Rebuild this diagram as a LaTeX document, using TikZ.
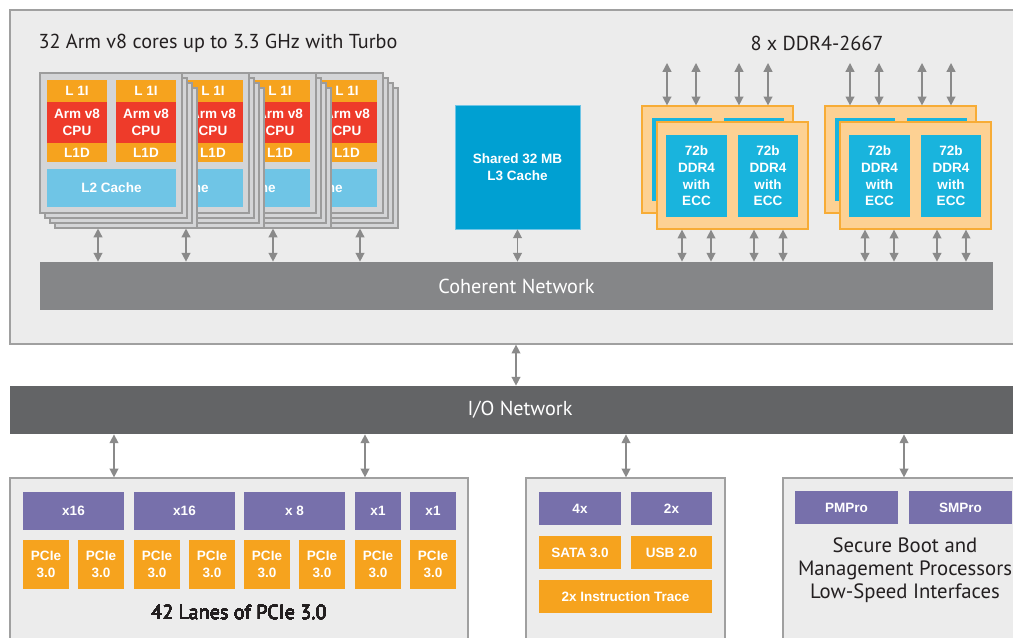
\documentclass[tikz,border=0pt]{standalone}
\usepackage{fontspec}
\setmainfont{Liberation Sans}
\newfontfamily\titlefont{PT Sans}
\usetikzlibrary{arrows.meta,calc}

\definecolor{framebg}{HTML}{ECECEC}
\definecolor{frameln}{HTML}{A0A0A0}
\definecolor{cardbg}{HTML}{D4D5D7}
\definecolor{cardln}{HTML}{9C9C9C}
\definecolor{amber}{HTML}{F6A31E}
\definecolor{cpured}{HTML}{EE3B2A}
\definecolor{ltblue}{HTML}{6FC5E6}
\definecolor{l3blue}{HTML}{00A0D2}
\definecolor{dimmblue}{HTML}{19B4DD}
\definecolor{ddrbg}{HTML}{FDD193}
\definecolor{ddrln}{HTML}{F7AC36}
\definecolor{lanes}{HTML}{7770AB}
\definecolor{netgray}{HTML}{858688}
\definecolor{iogray}{HTML}{636466}
\definecolor{arrgray}{HTML}{8A8A8A}
\definecolor{ink}{HTML}{231F20}

% box from corner (x1,y1) to corner (x2,y2), in pixels
\newcommand{\boxat}[7]{\node[#1, minimum width={((#5)-(#3))*0.02cm}, minimum height={((#6)-(#4))*0.02cm}] (#2) at ({((#3)+(#5))/2},{((#4)+(#6))/2}) {#7};}

\tikzset{
  blk/.style={rectangle, inner sep=0pt, align=center, text=white, font=\bfseries\fontsize{7.7}{9.5}\selectfont},
  frame/.style={rectangle, inner sep=0pt, fill=framebg, draw=frameln, line width=0.7pt},
  card/.style={rectangle, inner sep=0pt, fill=cardbg, draw=cardln, line width=0.6pt},
  l1/.style={blk, fill=amber},
  cpu/.style={blk, fill=cpured},
  l2/.style={blk, fill=ltblue},
  l3/.style={blk, fill=l3blue, draw=ltblue, line width=0.4pt},
  ddr/.style={rectangle, inner sep=0pt, fill=ddrbg, draw=ddrln, line width=0.7pt},
  dimm/.style={blk, fill=dimmblue},
  lane/.style={blk, fill=lanes},
  port/.style={blk, fill=amber},
  net/.style={rectangle, inner sep=0pt, fill=#1, text=white, font=\titlefont\fontsize{11.5}{13}\selectfont},
  ttl/.style={inner sep=0pt, text=ink, align=center, font=\titlefont\fontsize{11.5}{13}\selectfont},
  dbl/.style={draw=arrgray, line width=0.8pt, {Triangle[length=5pt,width=5pt]}-{Triangle[length=5pt,width=5pt]}}
}

\begin{document}
\begin{tikzpicture}[x=0.02cm, y=-0.02cm]
  \useasboundingbox (0,0) rectangle (1013,637);

  % compute complex
  \boxat{frame}{chip}{10}{10}{1030}{344}{}
  \node[ttl] (cores) at (218,43) {32 Arm v8 cores up to 3.3 GHz with Turbo};
  \node[ttl] (ddrttl) at (817,43) {8 x DDR4-2667};

  % core clusters, back to front
  \foreach \s in {3,2,1,0}{
    \pgfmathsetmacro\ox{40+67*\s}
    \foreach \k in {3,2,1}{
      \boxat{card}{st\s-\k}{\ox+5*\k}{73+5*\k}{\ox+142+5*\k}{213+5*\k}{}
    }
    \boxat{card}{st\s}{\ox}{73}{\ox+142}{213}{}
    \foreach \c/\cx in {a/7,b/76}{
      \boxat{l1}{i\s\c}{\ox+\cx}{80}{\ox+\cx+60}{102}{L 1I}
      \boxat{cpu}{cpu\s\c}{\ox+\cx}{102}{\ox+\cx+60}{143}{Arm v8\\CPU}
      \boxat{l1}{d\s\c}{\ox+\cx}{143}{\ox+\cx+60}{162}{L1D}
    }
    \boxat{l2}{l2\s}{\ox+7}{169}{\ox+136}{207}{L2 Cache}
  }

  \boxat{l3}{l3}{455}{105}{580}{229}{Shared 32 MB\\L3 Cache}

  % memory controllers
  \coordinate (dimmtop) at (0,63);
  \foreach \g/\gx in {1/642,2/825}{
    \boxat{ddr}{dk\g}{\gx}{106}{\gx+151}{213}{}
    \boxat{dimm}{db\g a}{\gx+10}{118}{\gx+70}{201}{}
    \boxat{dimm}{db\g b}{\gx+82}{118}{\gx+142}{201}{}
    \boxat{ddr}{df\g}{\gx+15}{122}{\gx+166}{229}{}
    \boxat{dimm}{dm\g a}{\gx+24}{135}{\gx+85}{217}{72b\\DDR4\\with\\ECC}
    \boxat{dimm}{dm\g b}{\gx+96}{135}{\gx+156}{217}{72b\\DDR4\\with\\ECC}
  }

  \boxat{net={netgray}}{net}{40}{262}{993}{310}{Coherent Network}

  \foreach \ax in {98,186,273,360}
    \draw[dbl] (\ax,0 |- st0-3.south) -- (\ax,0 |- net.north);
  \draw[dbl] (l3.south) -- (l3.south |- net.north);
  \foreach \g/\gx in {1/642,2/825}{
    \foreach \dx in {25,54,97,126}
      \draw[dbl] (\gx+\dx,0 |- dimmtop) -- (\gx+\dx,0 |- dk\g.north);
    \foreach \dx in {40,69,112,141}
      \draw[dbl] (\gx+\dx,0 |- df\g.south) -- (\gx+\dx,0 |- net.north);
  }

  % I/O
  \boxat{net={iogray}}{io}{10}{386}{1030}{434}{I/O Network}
  \draw[dbl] (516,0 |- chip.south) -- (516,0 |- io.north);

  % PCIe
  \boxat{frame}{pcie}{10}{478}{468}{660}{}
  \foreach \a/\b/\t [count=\i] in {23/124/x16,134/235/x16,244/345/x 8,355/401/x1,410/456/x1}
    \boxat{lane}{ln\i}{\a}{492}{\b}{530}{\t}
  \foreach \px [count=\i] in {23,78,134,189,244,299,355,410}
    \boxat{port}{pc\i}{\px}{540}{\px+46}{589}{PCIe\\3.0}
  \node[ttl] (pcielbl) at (239,612) {42 Lanes of PCIe 3.0};

  % SATA / USB / trace
  \boxat{frame}{misc}{526}{478}{725}{660}{}
  \boxat{lane}{sata4}{539}{492}{621}{525}{4x}
  \boxat{lane}{usb2}{631}{492}{712}{525}{2x}
  \boxat{port}{sata}{539}{536}{621}{569}{SATA 3.0}
  \boxat{port}{usb}{631}{536}{712}{569}{USB 2.0}
  \boxat{port}{trace}{539}{580}{712}{613}{2x Instruction Trace}

  % management
  \boxat{frame}{mgmt}{783}{478}{1030}{660}{}
  \boxat{lane}{pm}{795}{491}{898}{524}{PMPro}
  \boxat{lane}{sm}{909}{491}{1012}{524}{SMPro}
  \node[ttl, font=\titlefont\fontsize{11.8}{13}\selectfont] (mgmtlbl) at (905,570) {Secure Boot and\\Management Processors\\Low-Speed Interfaces};

  \draw[dbl] (114,0 |- io.south) -- (114,0 |- pcie.north);
  \draw[dbl] (365,0 |- io.south) -- (365,0 |- pcie.north);
  \draw[dbl] (626,0 |- io.south) -- (626,0 |- misc.north);
  \draw[dbl] (904,0 |- io.south) -- (904,0 |- mgmt.north);
\end{tikzpicture}
\end{document}
